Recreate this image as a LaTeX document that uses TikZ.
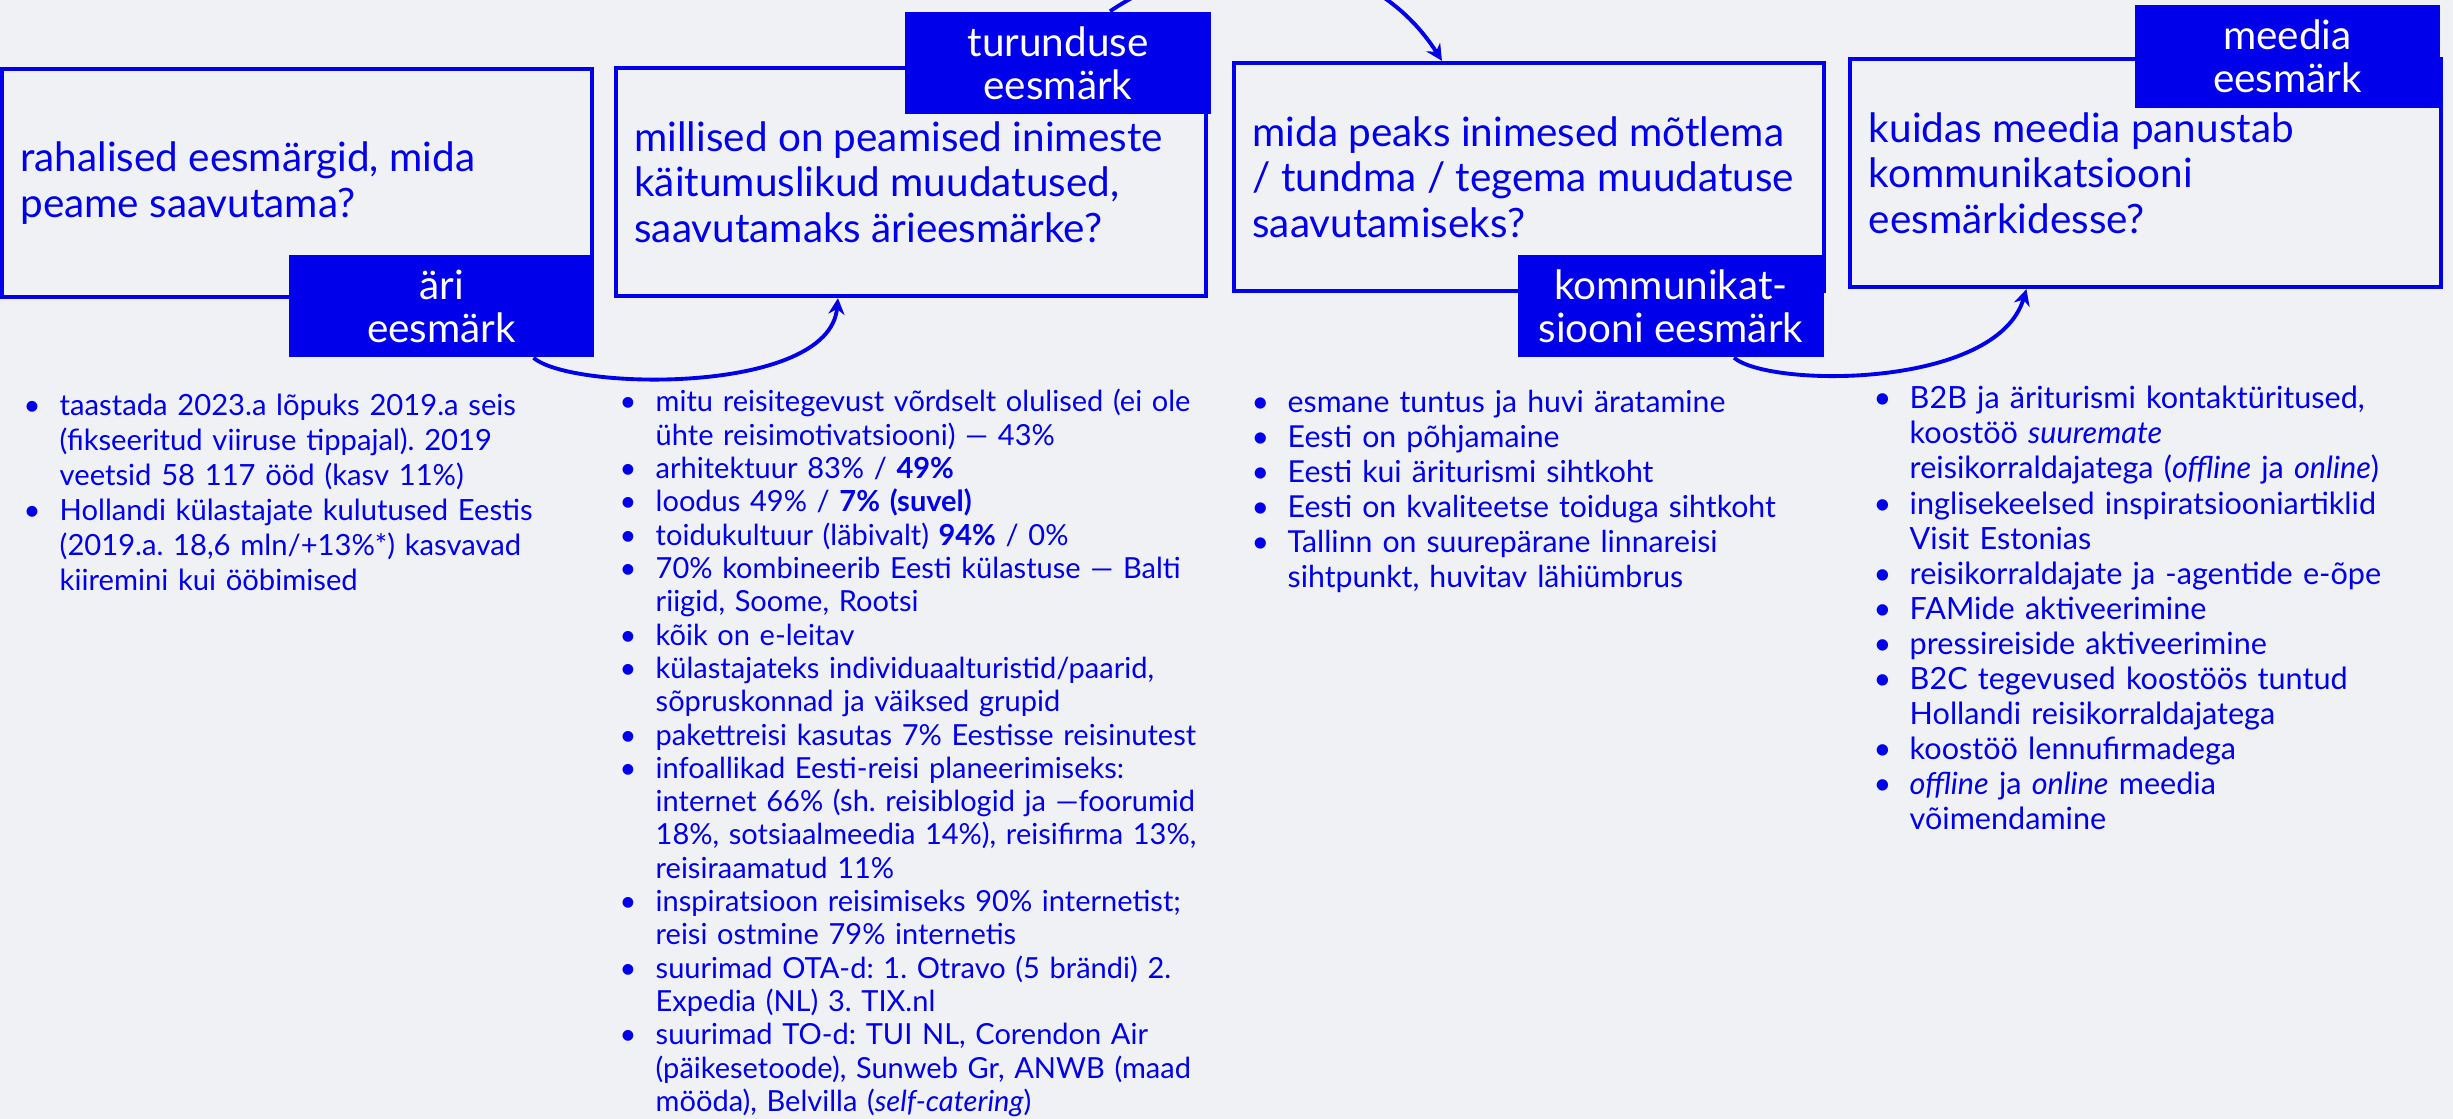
\documentclass[tikz,border=0pt]{standalone}
\usepackage{fontspec}
\setmainfont{Lato}
\usetikzlibrary{arrows.meta}
\definecolor{pagebg}{RGB}{240,241,244}
\definecolor{goalblue}{RGB}{0,0,235}
\newlength{\bulind}
\setlength{\bulind}{0.36cm}
\newcommand{\litem}[1]{\par\noindent\hangindent=\bulind\hangafter=1\hbox to\bulind{\textbullet\hfil}\strut#1\par}

\begin{document}
\begin{tikzpicture}[x=0.01cm, y=-0.01cm,
		goalbox/.style={draw=goalblue, line width=1.2pt, minimum width=5.9cm, minimum height=2.28cm, inner sep=0pt},
		goaltext/.style={anchor=west, align=left, inner sep=0pt, text=goalblue, font=\fontsize{11.5}{12.9}\selectfont\frenchspacing},
		goaltag/.style={fill=goalblue, text=white, minimum width=3.05cm, minimum height=1.02cm, inner sep=0pt, align=center, font=\fontsize{11.5}{12.2}\selectfont},
		goallist/.style={anchor=north west, inner sep=0pt, text width=6.4cm, align=left, text=goalblue, font=\fontsize{8.3}{9.96}\selectfont\frenchspacing},
		flow/.style={draw=goalblue, line width=1.1pt, -{Stealth[length=4.6pt, width=4.6pt]}}]
	\fill[pagebg] (0,0) rectangle (2453,1119);
	\useasboundingbox (0,0) rectangle (2453,1119);

	\node[goalbox] (ariBox) at (297,183) {};
	\node[goalbox] (turBox) at (911,182) {};
	\node[goalbox] (komBox) at (1529,177) {};
	\node[goalbox] (meedBox) at (2145.5,173) {};

	\node[goaltext] (ariText) at ([xshift=0.2cm]ariBox.west) {rahalised eesmärgid, mida\\peame saavutama?};
	\node[goaltext] (turText) at ([xshift=0.2cm]turBox.west) {millised on peamised inimeste\\käitumuslikud muudatused,\\saavutamaks ärieesmärke?};
	\node[goaltext] (komText) at ([xshift=0.2cm]komBox.west) {mida peaks inimesed mõtlema\\/ tundma / tegema muudatuse\\saavutamiseks?};
	\node[goaltext] (meedText) at ([xshift=0.2cm]meedBox.west) {kuidas meedia panustab\\kommunikatsiooni\\eesmärkidesse?};

	\node[goaltag] (ariTag) at (441.5,306) {äri\\eesmärk};
	\node[goaltag] (turTag) at (1058,63) {turunduse\\eesmärk};
	\node[goaltag] (komTag) at (1671,306) {kommunikat-\\siooni eesmärk};
	\node[goaltag] (meedTag) at (2287.5,56.5) {meedia\\eesmärk};

	\draw[flow] ([xshift=0.92cm]ariTag.south) .. controls +(37,33) and +(-9,97) .. ([xshift=-0.73cm]turBox.south);
	\draw[flow] ([xshift=0.52cm]turTag.north) .. controls +(120,-80) and +(-70,-110) .. ([xshift=-0.87cm]komBox.north);
	\draw[flow] ([xshift=0.63cm]komTag.south) .. controls +(35,30) and +(-30,100) .. ([xshift=-1.19cm]meedBox.south);

	\node[goallist] (ariList) at (23,380) {%
		\litem{taastada 2023.a lõpuks 2019.a seis\newline (fikseeritud viiruse tippajal). 2019\newline veetsid 58 117 ööd (kasv 11\%)}
		\litem{Hollandi külastajate kulutused Eestis\newline (2019.a. 18,6 mln/+13\%*) kasvavad\newline kiiremini kui ööbimised}};
	\node[goallist, font=\fontsize{8.25}{9.47}\selectfont\frenchspacing] (turList) at (619,378) {%
		\litem{mitu reisitegevust võrdselt olulised (ei ole\newline ühte reisimotivatsiooni) — 43\%}
		\litem{arhitektuur 83\% / \textbf{49\%}}
		\litem{loodus 49\% / \textbf{7\% (suvel)}}
		\litem{toidukultuur (läbivalt) \textbf{94\%} / 0\%}
		\litem{70\% kombineerib Eesti külastuse — Balti\newline riigid, Soome, Rootsi}
		\litem{kõik on e-leitav}
		\litem{külastajateks individuaalturistid/paarid,\newline sõpruskonnad ja väiksed grupid}
		\litem{pakettreisi kasutas 7\% Eestisse reisinutest}
		\litem{infoallikad Eesti-reisi planeerimiseks:\newline internet 66\% (sh. reisiblogid ja —foorumid\newline 18\%, sotsiaalmeedia 14\%), reisifirma 13\%,\newline reisiraamatud 11\%}
		\litem{inspiratsioon reisimiseks 90\% internetist;\newline reisi ostmine 79\% internetis}
		\litem{suurimad OTA-d: 1. Otravo (5 brändi) 2.\newline Expedia (NL) 3. TIX.nl}
		\litem{suurimad TO-d: TUI NL, Corendon Air\newline (päikesetoode), Sunweb Gr, ANWB (maad\newline mööda), Belvilla (\textit{self-catering})}};
	\node[goallist, font=\fontsize{8.6}{9.96}\selectfont\frenchspacing] (komList) at (1251,377) {%
		\litem{esmane tuntus ja huvi äratamine}
		\litem{Eesti on põhjamaine}
		\litem{Eesti kui äriturismi sihtkoht}
		\litem{Eesti on kvaliteetse toiduga sihtkoht}
		\litem{Tallinn on suurepärane linnareisi\newline sihtpunkt, huvitav lähiümbrus}};
	\node[goallist, font=\fontsize{8.7}{9.98}\selectfont\frenchspacing] (meedList) at (1873,373) {%
		\litem{B2B ja äriturismi kontaktüritused,\newline koostöö \textit{suuremate}\newline reisikorraldajatega (\textit{offline} ja \textit{online})}
		\litem{inglisekeelsed inspiratsiooniartiklid\newline Visit Estonias}
		\litem{reisikorraldajate ja -agentide e-õpe}
		\litem{FAMide aktiveerimine}
		\litem{pressireiside aktiveerimine}
		\litem{B2C tegevused koostöös tuntud\newline Hollandi reisikorraldajatega}
		\litem{koostöö lennufirmadega}
		\litem{\textit{offline} ja \textit{online} meedia\newline võimendamine}};
\end{tikzpicture}
\end{document}
